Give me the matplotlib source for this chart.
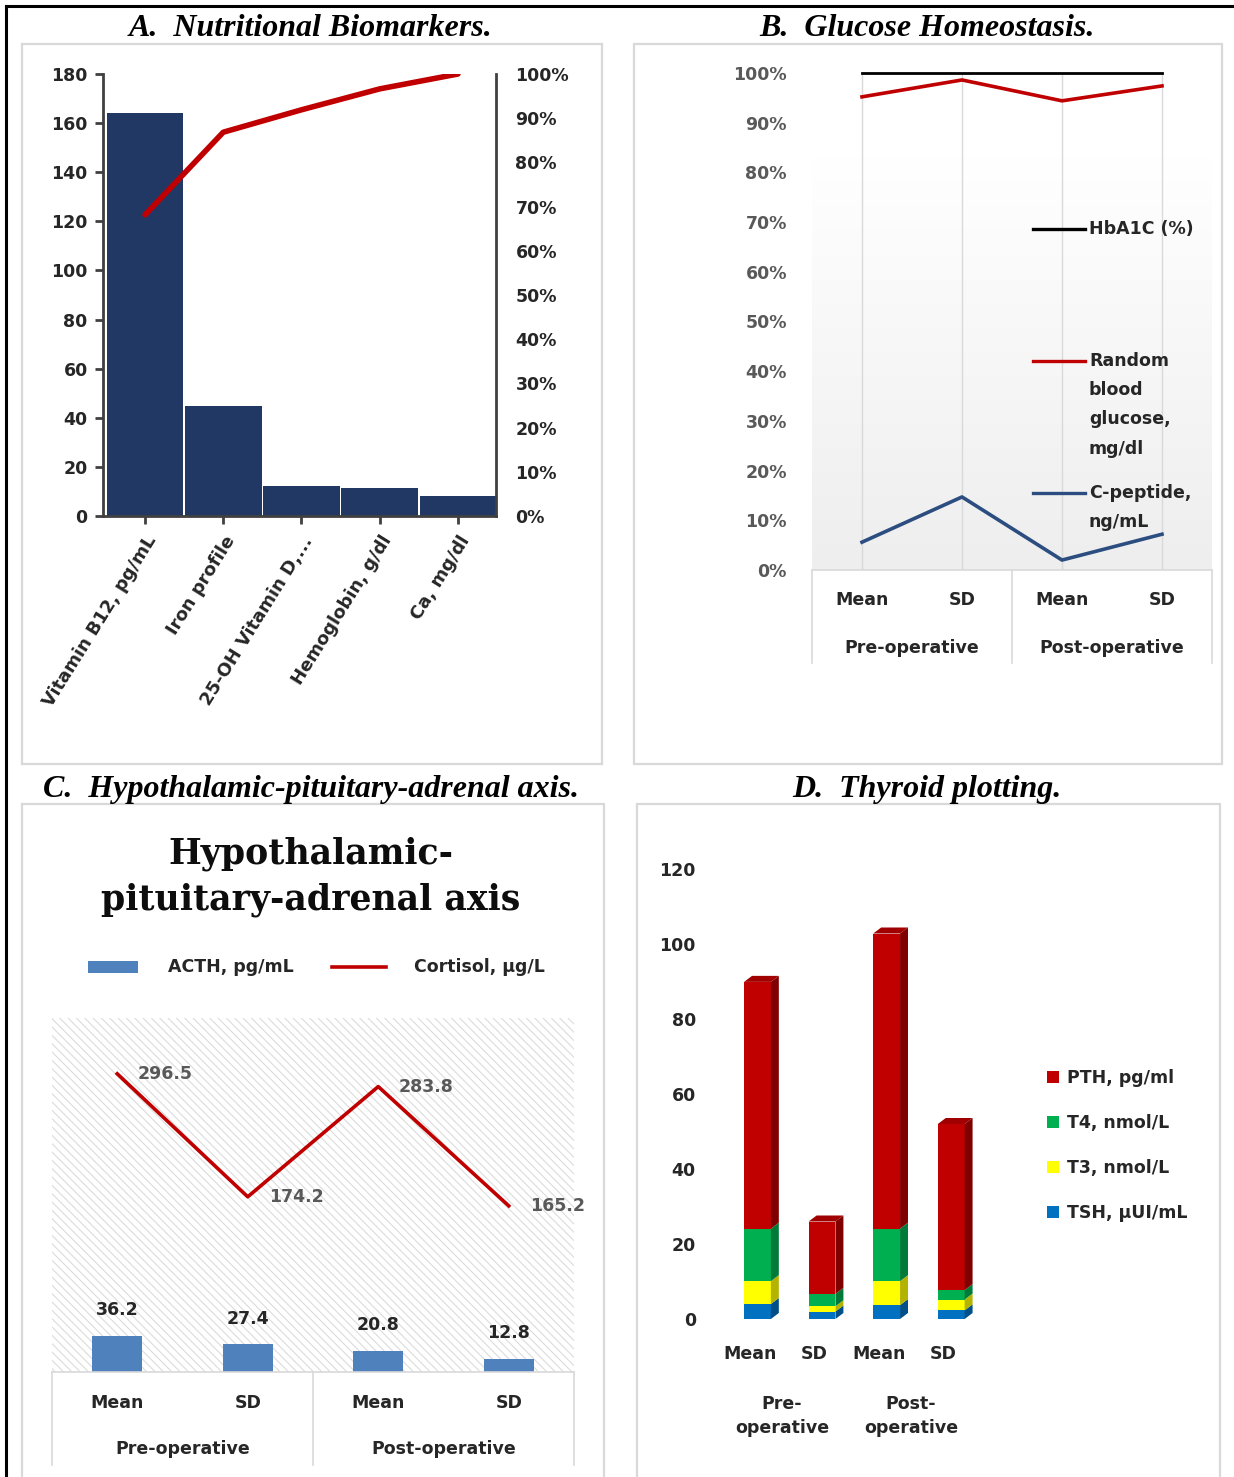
import numpy as np
import matplotlib

matplotlib.use("Agg")
import matplotlib.pyplot as plt
from matplotlib.patches import Rectangle, Polygon, Patch
from matplotlib.lines import Line2D
from matplotlib.transforms import blended_transform_factory

plt.rcParams["font.family"] = ["DejaVu Sans"]
plt.rcParams["hatch.color"] = "#dadada"
plt.rcParams["hatch.linewidth"] = 0.75

W, H = 1234, 1477  # canvas size in px (dpi 100)

# --- A. nutritional biomarkers (pareto) ---
nutr_labels = ["Vitamin B12, pg/mL", "Iron profile", "25-OH Vitamin D,...",
               "Hemoglobin, g/dl", "Ca, mg/dl"]
nutr_values = [164.0, 45.0, 12.2, 11.4, 8.1]

# --- B. glucose homeostasis (100% stacked lines) ---
gluc_cats = ["Mean", "SD", "Mean", "SD"]
gluc_groups = ["Pre-operative", "Post-operative"]
hba1c_pct = [100, 100, 100, 100]
rbg_pct = [95.2, 98.6, 94.4, 97.4]
cpep_pct = [5.6, 14.7, 2.0, 7.2]

# --- C. HPA axis ---
hpa_cats = ["Mean", "SD", "Mean", "SD"]
hpa_groups = ["Pre-operative", "Post-operative"]
acth = [36.2, 27.4, 20.8, 12.8]
cortisol = [296.5, 174.2, 283.8, 165.2]

# --- D. thyroid (stacked) ---
thy_cats = ["Mean", "SD", "Mean", "SD"]
thy_groups = ["Pre-\noperative", "Post-\noperative"]
tsh = [4.0, 2.0, 3.7, 2.3]
t3 = [6.1, 1.4, 6.4, 2.9]
t4 = [14.0, 3.3, 14.0, 2.5]
pth = [65.8, 19.3, 78.7, 44.3]

INK = "#262626"
GRAY = "#595959"
RULE = "#d9d9d9"
RED = "#c00000"


def box(x0, y0, x1, y1):
    """pixel box (top-left origin) -> figure rect"""
    return [x0 / W, 1 - y1 / H, (x1 - x0) / W, (y1 - y0) / H]


def fx(x):
    return x / W


def fy(y):
    return 1 - y / H


fig = plt.figure(figsize=(W / 100, H / 100), dpi=100)
fig.patch.set_facecolor("white")

# outer frame and panel frames
fig.add_artist(Line2D([fx(6), fx(1234)], [fy(6), fy(6)], color="black", lw=2.2))
fig.add_artist(Line2D([fx(6), fx(6)], [fy(6), fy(1477)], color="black", lw=2.2))
for x0, y0, x1, y1 in [(22, 44, 602, 764), (634, 44, 1222, 764),
                       (22, 804, 604, 1490), (637, 804, 1220, 1490)]:
    fig.add_artist(Rectangle((fx(x0), fy(y1)), fx(x1) - fx(x0), fy(y0) - fy(y1),
                             transform=fig.transFigure, fill=False,
                             edgecolor=RULE, lw=1.6))

title_kw = dict(ha="center", va="center", fontsize=23, fontweight="bold",
                fontstyle="italic", family="Liberation Serif", color="black")
fig.text(fx(311), fy(28), "A.  Nutritional Biomarkers.", **title_kw)
fig.text(fx(927), fy(28), "B.  Glucose Homeostasis.", **title_kw)
fig.text(fx(311), fy(789), "C.  Hypothalamic-pituitary-adrenal axis.", **title_kw)
fig.text(fx(927), fy(789), "D.  Thyroid plotting.", **title_kw)

# ---------------- A ----------------
axA = fig.add_axes(box(103, 74, 496, 516))
xa = np.arange(len(nutr_values))
axA.bar(xa, nutr_values, width=0.98, color="#213764", zorder=2)
axA.set_xlim(-0.537, 4.486)
axA.set_ylim(0, 180)
axA.set_yticks(np.arange(0, 181, 20))
axA.set_xticks(xa)
axA.set_xticklabels(nutr_labels, rotation=58, ha="right", rotation_mode="anchor",
                    fontsize=13, fontweight="bold", color=INK)
for s in ["top", "right"]:
    axA.spines[s].set_visible(False)
for s in ["left", "bottom"]:
    axA.spines[s].set_color("#404040")
    axA.spines[s].set_linewidth(2)
axA.tick_params(axis="both", direction="out", length=6, width=2, color="#404040")
axA.tick_params(axis="y", pad=5, labelsize=12.5, labelcolor=INK)
axA.tick_params(axis="x", pad=6)
for t in axA.get_yticklabels():
    t.set_fontweight("bold")

cum_pct = np.cumsum(nutr_values) / np.sum(nutr_values) * 100
axA2 = axA.twinx()
axA2.plot(xa, cum_pct, color=RED, lw=4, solid_capstyle="round", zorder=3)
axA2.set_ylim(0, 100)
axA2.set_yticks(np.arange(0, 101, 10))
axA2.set_yticklabels([f"{v}%" for v in range(0, 101, 10)], fontsize=12.5,
                     fontweight="bold", color=INK)
for s in ["top", "left", "bottom"]:
    axA2.spines[s].set_visible(False)
axA2.spines["right"].set_color("#404040")
axA2.spines["right"].set_linewidth(2)
axA2.tick_params(axis="y", length=0, pad=14)

# ---------------- B ----------------
axB = fig.add_axes(box(812, 73, 1212, 570))
xb = np.arange(len(gluc_cats))
grad = np.linspace(0, 1, 256).reshape(-1, 1)
axB.imshow(grad, extent=[-0.5, 3.5, 0, 83], origin="lower", aspect="auto",
           cmap=matplotlib.colors.LinearSegmentedColormap.from_list(
               "fade", ["#eeeeee", "#ffffff"]), zorder=0)
for xv in xb:
    axB.axvline(xv, color=RULE, lw=1, zorder=1)
axB.plot(xb, hba1c_pct, color="black", lw=2, zorder=3, clip_on=False)
axB.plot(xb, rbg_pct, color=RED, lw=2.6, zorder=3)
axB.plot(xb, cpep_pct, color="#2c4d80", lw=2.6, zorder=3)
axB.set_xlim(-0.5, 3.5)
axB.set_ylim(0, 100)
axB.set_yticks(np.arange(0, 101, 10))
axB.set_yticklabels([f"{v}%" for v in range(0, 101, 10)], fontsize=12.5,
                    fontweight="bold", color=GRAY)
axB.set_xticks([])
axB.tick_params(axis="y", length=0, pad=18)
for s in ["top", "right", "left"]:
    axB.spines[s].set_visible(False)
axB.spines["bottom"].set_color(RULE)
axB.spines["bottom"].set_linewidth(1.2)


def category_table(ax, cats, groups, y_cat, y_grp, y_end):
    tr = blended_transform_factory(ax.transData, ax.transAxes)
    for i, c in enumerate(cats):
        ax.text(i, y_cat, c, transform=tr, ha="center", va="center",
                fontsize=12.5, fontweight="bold", color=INK)
    for g, xg in zip(groups, [0.5, 2.5]):
        ax.text(xg, y_grp, g, transform=tr, ha="center", va="center",
                fontsize=12.5, fontweight="bold", color=INK)
    for xs in [-0.5, 1.5, 3.5]:
        ax.plot([xs, xs], [0, y_end], transform=tr, color=RULE, lw=1.2,
                clip_on=False)


category_table(axB, gluc_cats, gluc_groups, -0.0604, -0.157, -0.187)

# legend keys for B
leg_b = [("black", "HbA1C (%)", 229), (RED, "Random\nblood\nglucose,\nmg/dl", 361),
         ("#2c4d80", "C-peptide,\nng/mL", 493)]
for col, lab, yy in leg_b:
    fig.add_artist(Line2D([fx(1033), fx(1085)], [fy(yy), fy(yy)], color=col, lw=2.4))
    fig.text(fx(1089), fy(yy - 9), lab, ha="left", va="top", fontsize=12.5,
             fontweight="bold", color=INK, linespacing=1.8)

# ---------------- C ----------------
axC = fig.add_axes(box(52, 1018, 574, 1372))
axC.patch.set_visible(False)
axC.add_patch(Rectangle((0, 0), 1, 1, transform=axC.transAxes, facecolor="white",
                        edgecolor="#dadada", hatch="\\\\\\\\", lw=0, zorder=0))
xc = np.arange(len(hpa_cats))
bars = axC.bar(xc, acth, width=0.385, color="#4f81bd", zorder=2)
axC.plot(xc, cortisol, color=RED, lw=2.6, zorder=3)
for xv, v in zip(xc, acth):
    axC.annotate(f"{v:.1f}", (xv, v), xytext=(0, 12), textcoords="offset points",
                 ha="center", va="bottom", fontsize=12.5, fontweight="bold", color=INK)
for xv, v in zip(xc, cortisol):
    axC.annotate(f"{v:.1f}", (xv, v), xytext=(15, 0), textcoords="offset points",
                 ha="left", va="center", fontsize=12.5, fontweight="bold", color=GRAY)
axC.set_xlim(-0.5, 3.5)
axC.set_ylim(0, 352)
axC.set_xticks([])
axC.set_yticks([])
for s in ["top", "right", "left"]:
    axC.spines[s].set_visible(False)
axC.spines["bottom"].set_color(RULE)
axC.spines["bottom"].set_linewidth(1.2)
category_table(axC, hpa_cats, hpa_groups, -0.0876, -0.2175, -0.263)

fig.text(fx(311), fy(877), "Hypothalamic-\npituitary-adrenal axis", ha="center",
         va="center", fontsize=25, fontweight="bold", family="DejaVu Serif",
         color="#0d0d0d", linespacing=1.42)
fig.add_artist(Rectangle((fx(88), fy(973)), fx(50), 12 / H,
                         transform=fig.transFigure, facecolor="#4f81bd", lw=0))
fig.text(fx(168), fy(967), "ACTH, pg/mL", ha="left", va="center", fontsize=12.5,
         fontweight="bold", color=INK)
fig.add_artist(Line2D([fx(332), fx(386)], [fy(967), fy(967)], color=RED, lw=2.6))
fig.text(fx(414), fy(967), "Cortisol, µg/L", ha="left", va="center", fontsize=12.5,
         fontweight="bold", color=INK)

# ---------------- D ----------------
axD = fig.add_axes(box(700, 869, 1010, 1319))
axD.set_xlim(-0.77, 4.03)
axD.set_ylim(0, 120)
xd = np.arange(len(thy_cats))
shift = 0.12   # front faces sit a little right of the category labels
bw = 0.415
depth_x, depth_y = 0.123, 1.6
series = [(tsh, "#0070c0", "#004f88", "TSH, µUI/mL"),
          (t3, "#ffff00", "#b3b300", "T3, nmol/L"),
          (t4, "#00b050", "#007a38", "T4, nmol/L"),
          (pth, RED, "#800000", "PTH, pg/ml")]
bottom = np.zeros(len(thy_cats))
for vals, face, side, lab in series:
    vals = np.asarray(vals)
    axD.bar(xd + shift, vals, width=bw, bottom=bottom, color=face, zorder=2)
    for xv, b0, h in zip(xd + shift, bottom, vals):
        xr = xv + bw / 2
        axD.add_patch(Polygon([(xr, b0), (xr + depth_x, b0 + depth_y),
                               (xr + depth_x, b0 + h + depth_y), (xr, b0 + h)],
                              closed=True, facecolor=side, lw=0, zorder=2))
    bottom = bottom + vals
for xv, top in zip(xd + shift, bottom):
    xl, xr = xv - bw / 2, xv + bw / 2
    axD.add_patch(Polygon([(xl, top), (xl + depth_x, top + depth_y),
                           (xr + depth_x, top + depth_y), (xr, top)],
                          closed=True, facecolor="#a00000", lw=0, zorder=3,
                          clip_on=False))
axD.set_yticks(np.arange(0, 121, 20))
axD.set_yticklabels([str(v) for v in range(0, 121, 20)], fontsize=12.5,
                    fontweight="bold", color=INK)
axD.tick_params(axis="y", length=0, pad=3)
axD.set_xticks([])
for s in axD.spines.values():
    s.set_visible(False)
trD = blended_transform_factory(axD.transData, axD.transAxes)
for i, c in enumerate(thy_cats):
    axD.text(i, -0.0778, c, transform=trD, ha="center", va="center", fontsize=12.5,
             fontweight="bold", color=INK)
for g, xg in zip(thy_groups, [0.5, 2.5]):
    axD.text(xg, -0.2156, g, transform=trD, ha="center", va="center", fontsize=12.5,
             fontweight="bold", color=INK, linespacing=1.4)

handles = [Patch(facecolor=face, label=lab) for _, face, _, lab in reversed(series)]
fig.legend(handles=handles, loc="upper left", bbox_to_anchor=(fx(1040), fy(1062)),
           frameon=False, fontsize=12.5, handlelength=0.7, handleheight=0.7,
           handletextpad=0.45, labelspacing=1.55, borderaxespad=0,
           prop={"weight": "bold", "size": 12.5}, labelcolor=INK)

fig.savefig("out.png", dpi=100, facecolor="white")
